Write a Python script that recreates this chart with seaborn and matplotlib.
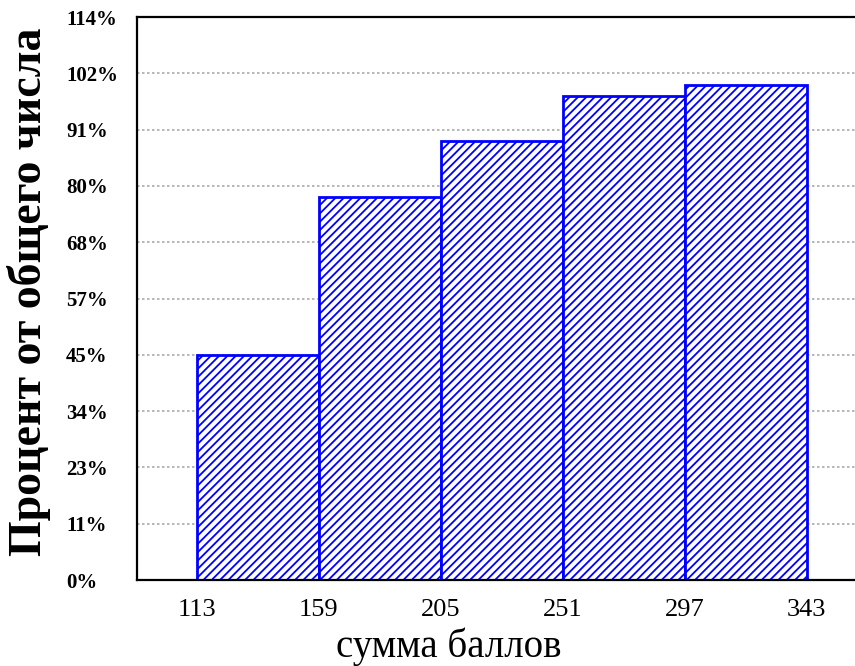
import matplotlib
matplotlib.use('Agg')
import pandas as pd
import seaborn as sns
import matplotlib.pyplot as plt

sns.set_style('white')
plt.rcParams['font.family'] = ['Liberation Serif', 'DejaVu Serif']
plt.rcParams['text.color'] = 'black'
plt.rcParams['axes.labelcolor'] = 'black'
plt.rcParams['xtick.color'] = 'black'
plt.rcParams['ytick.color'] = 'black'
plt.rcParams['hatch.color'] = 'blue'
plt.rcParams['hatch.linewidth'] = 1.3

# data (cumulative histogram, N = 44)
bin_edges = [113, 159, 205, 251, 297, 343]
bin_counts = [20, 14, 5, 4, 1]
ytick_counts = [0, 5, 10, 15, 20, 25, 30, 35, 40, 45, 50]
ytick_labels = ['0%', '11%', '23%', '34%', '45%', '57%', '68%', '80%',
                '91%', '102%', '114%']

mids = [(a + b) / 2 for a, b in zip(bin_edges[:-1], bin_edges[1:])]
df = pd.DataFrame({'score': mids, 'n': bin_counts})

fig = plt.figure(figsize=(8.55, 6.66), dpi=100)
ax = fig.add_axes([0.1602, 0.1291, 0.857, 0.8453])

sns.histplot(data=df, x='score', weights='n', bins=bin_edges, cumulative=True,
             stat='count', color='white', edgecolor='blue', linewidth=2,
             hatch='////', alpha=1, ax=ax)

ax.set_xlim(90.4, 366.8)
ax.set_ylim(0, 50)
ax.set_xticks(bin_edges)
ax.set_xticklabels([str(e) for e in bin_edges], fontsize=19)
ax.set_yticks(ytick_counts)
ax.set_yticklabels(ytick_labels, fontsize=15, fontweight='bold')
for lbl in ax.get_yticklabels():
    lbl.set_ha('left')
ax.tick_params(axis='y', length=0, pad=51)
ax.tick_params(axis='x', length=0, pad=14)

ax.set_axisbelow(True)
ax.yaxis.grid(True, linestyle=(0, (1.5, 1.5)), color='#aaaaaa', linewidth=1.2)
ax.xaxis.grid(False)

for side in ['top', 'left', 'bottom']:
    ax.spines[side].set_color('black')
    ax.spines[side].set_linewidth(1.6)
ax.spines['right'].set_visible(False)

ax.set_xlabel('сумма баллов', fontsize=28)
ax.xaxis.set_label_coords(0.426, -0.085)
ax.set_ylabel('Процент от общего числа', fontsize=33, fontweight='bold')
ax.yaxis.set_label_coords(-0.118, 0.512)

fig.savefig('out.png', dpi=100)
